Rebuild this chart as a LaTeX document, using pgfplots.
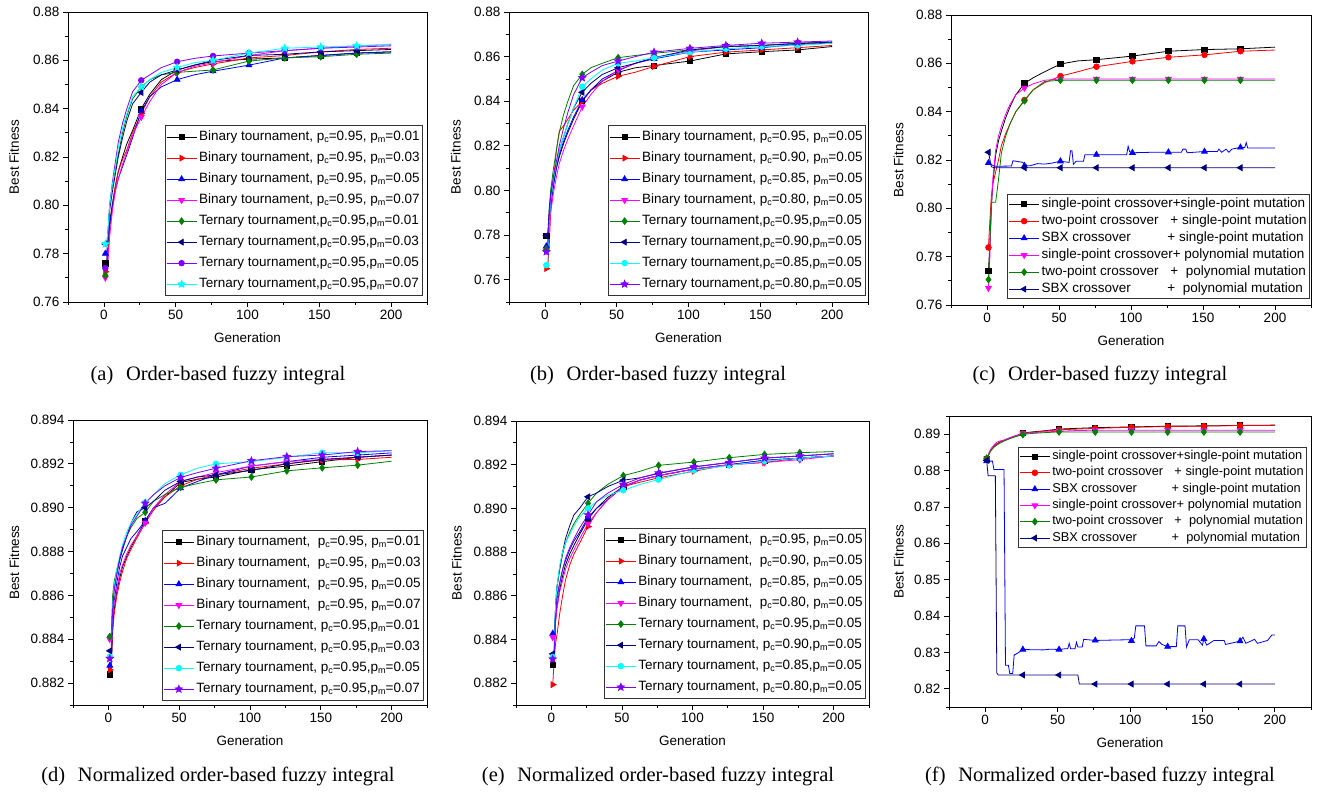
\documentclass[border=0pt]{standalone}
\usepackage{fontspec}
\setmainfont{Liberation Sans}
\newfontfamily\capfont{Liberation Serif}
\usepackage{pgfplots}
\usepackage{pgfplotstable}
\pgfplotsset{compat=1.18}

\definecolor{ored}{RGB}{255,0,0}
\definecolor{oblue}{RGB}{0,0,255}
\definecolor{omag}{RGB}{255,0,255}
\definecolor{ogreen}{RGB}{0,128,0}
\definecolor{onavy}{RGB}{0,0,128}
\definecolor{oviolet}{RGB}{128,0,255}
\definecolor{ocyan}{RGB}{0,255,255}

\pgfdeclareplotmark{fstar}{%
 \pgfpathmoveto{\pgfpointpolar{90}{1.25\pgfplotmarksize}}%
 \pgfpathlineto{\pgfpointpolar{126}{0.55\pgfplotmarksize}}%
 \pgfpathlineto{\pgfpointpolar{162}{1.25\pgfplotmarksize}}%
 \pgfpathlineto{\pgfpointpolar{198}{0.55\pgfplotmarksize}}%
 \pgfpathlineto{\pgfpointpolar{234}{1.25\pgfplotmarksize}}%
 \pgfpathlineto{\pgfpointpolar{270}{0.55\pgfplotmarksize}}%
 \pgfpathlineto{\pgfpointpolar{306}{1.25\pgfplotmarksize}}%
 \pgfpathlineto{\pgfpointpolar{342}{0.55\pgfplotmarksize}}%
 \pgfpathlineto{\pgfpointpolar{18}{1.25\pgfplotmarksize}}%
 \pgfpathlineto{\pgfpointpolar{54}{0.55\pgfplotmarksize}}%
 \pgfpathclose\pgfusepathqfillstroke}

\newcommand\tfont{\fontsize{13.5}{16}\selectfont}
\newcommand\sub[1]{\raisebox{-0.3ex}{\fontsize{9}{10}\selectfont #1}}
\newcommand\BT[2]{Binary tournament, p\sub{c}=#1, p\sub{m}=#2}
\newcommand\TT[2]{Ternary tournament,p\sub{c}=#1,p\sub{m}=#2}
\newcommand\BTn[2]{Binary tournament,\ \ p\sub{c}=#1, p\sub{m}=#2}
\newcommand\TTn[2]{Ternary tournament, p\sub{c}=#1,p\sub{m}=#2}

\pgfplotsset{
 myax/.style={
  scale only axis, anchor=south west,
  xmin=-25, xmax=225,
  xtick={0,50,100,150,200},
  minor xtick={-25,25,75,125,175,225},
  tick align=outside, tick pos=left,
  major tick length=5pt, minor tick length=3pt,
  tick style={black, line width=0.8pt},
  axis line style={line width=0.8pt},
  ticklabel style={font=\tfont},
  /pgf/number format/assume math mode=true,
  scaled y ticks=false, scaled x ticks=false,
  xlabel={Generation}, ylabel={Best Fitness},
  every axis x label/.style={at={(axis description cs:0.5,0)}, yshift=-36pt, anchor=center, font=\tfont},
  legend cell align=left,
  legend image code/.code={\draw[#1] (0pt,0pt) -- (30pt,0pt); \draw[#1] plot coordinates {(15pt,0pt)};},
  legend style={font=\tfont, draw=black!80, line width=0.7pt, inner xsep=1pt, inner ysep=1pt,
    nodes={text height=9.5pt, text depth=3pt, inner ysep=4.25pt, inner xsep=2pt}, row sep=0pt},
  every axis plot/.append style={line width=0.8pt},
 },
 ylp/.style={every axis y label/.style={at={(axis description cs:-#1,0.5)}, rotate=90, anchor=center, font=\tfont}},
 yprec/.style={yticklabel style={/pgf/number format/.cd, fixed, fixed zerofill, precision=#1}},
 mk/.style={mark indices={1,11,14,16,17,18,19,20}},
 pk/.style={black, mark=square*, mark size=2.6pt, mark options={solid}},
 pr/.style={ored, mark=triangle*, mark size=3.3pt, mark options={solid, rotate=-90}},
 prc/.style={ored, mark=*, mark size=2.8pt, mark options={solid}},
 pb/.style={oblue, mark=triangle*, mark size=3.3pt, mark options={solid}},
 pm/.style={omag, mark=triangle*, mark size=3.3pt, mark options={solid, rotate=180}},
 pg/.style={ogreen, mark=diamond*, mark size=3.3pt, mark options={solid}},
 pn/.style={onavy, mark=triangle*, mark size=3.3pt, mark options={solid, rotate=90}},
 pvc/.style={oviolet, mark=*, mark size=2.8pt, mark options={solid}},
 pvs/.style={oviolet, mark=fstar, mark size=3pt, mark options={solid}},
 pcc/.style={ocyan, mark=*, mark size=2.8pt, mark options={solid}},
 pcs/.style={ocyan, mark=fstar, mark size=3pt, mark options={solid}},
}

\pgfplotstableread{
x k r b m g n v c
1 0.776 0.7725 0.780 0.770 0.771 0.784 0.774 0.784
2 0.777 0.773 0.781 0.771 0.772 0.784 0.775 0.784
3 0.785 0.780 0.786 0.778 0.790 0.790 0.790 0.791
4 0.793 0.790 0.792 0.787 0.800 0.798 0.800 0.800
6 0.801 0.800 0.800 0.798 0.808 0.806 0.810 0.809
8 0.808 0.808 0.806 0.806 0.815 0.813 0.818 0.816
10 0.814 0.814 0.811 0.811 0.821 0.820 0.826 0.824
13 0.820 0.819 0.816 0.817 0.830 0.828 0.834 0.832
16 0.8255 0.823 0.821 0.822 0.837 0.835 0.840 0.838
20 0.831 0.830 0.828 0.829 0.844 0.842 0.847 0.845
26 0.840 0.838 0.839 0.8365 0.849 0.8467 0.8517 0.849
32 0.846 0.845 0.845 0.843 0.852 0.851 0.854 0.852
40 0.852 0.851 0.849 0.850 0.854 0.854 0.857 0.855
51 0.856 0.855 0.852 0.855 0.855 0.856 0.8594 0.857
63 0.858 0.857 0.854 0.8575 0.8555 0.858 0.8608 0.859
76 0.8595 0.8585 0.8555 0.859 0.856 0.860 0.8618 0.860
101 0.8605 0.861 0.858 0.862 0.8597 0.862 0.863 0.863
126 0.861 0.862 0.861 0.864 0.861 0.8625 0.864 0.865
151 0.862 0.8635 0.862 0.865 0.8615 0.8635 0.865 0.8655
176 0.863 0.8645 0.863 0.866 0.8625 0.864 0.8655 0.866
200 0.8635 0.865 0.8635 0.8665 0.863 0.8645 0.866 0.8667
}\tabA

\pgfplotstableread{
x k r b m g n c v
1 0.7797 0.765 0.775 0.773 0.7738 0.7797 0.7665 0.7725
2 0.780 0.766 0.776 0.774 0.775 0.780 0.768 0.774
3 0.788 0.775 0.785 0.782 0.790 0.792 0.785 0.788
4 0.795 0.790 0.793 0.790 0.800 0.798 0.795 0.797
6 0.803 0.805 0.802 0.799 0.810 0.806 0.805 0.806
8 0.810 0.818 0.810 0.806 0.818 0.812 0.812 0.813
10 0.815 0.8265 0.816 0.812 0.826 0.818 0.818 0.820
13 0.821 0.829 0.822 0.818 0.834 0.824 0.824 0.828
16 0.826 0.832 0.827 0.823 0.840 0.830 0.830 0.835
20 0.832 0.836 0.833 0.829 0.847 0.837 0.837 0.843
26 0.840 0.840 0.8405 0.8375 0.852 0.844 0.8465 0.8505
32 0.845 0.845 0.845 0.843 0.855 0.848 0.850 0.853
40 0.849 0.848 0.850 0.849 0.857 0.852 0.854 0.856
51 0.853 0.8512 0.8537 0.854 0.8595 0.855 0.857 0.858
63 0.855 0.853 0.857 0.857 0.8605 0.857 0.858 0.860
76 0.856 0.8556 0.859 0.8595 0.8615 0.8595 0.8595 0.862
101 0.858 0.860 0.862 0.8625 0.863 0.863 0.862 0.8637
126 0.8612 0.862 0.863 0.8645 0.8645 0.8645 0.8635 0.865
151 0.8622 0.863 0.864 0.865 0.865 0.865 0.8645 0.866
176 0.863 0.864 0.8655 0.866 0.866 0.8658 0.865 0.8665
200 0.8645 0.865 0.866 0.8665 0.8665 0.8665 0.866 0.867
}\tabB

\pgfplotstableread{
x k r m g
1 0.7742 0.7838 0.767 0.7705
2 0.785 0.795 0.780 0.785
3 0.800 0.805 0.800 0.8025
4 0.810 0.810 0.812 0.8025
6 0.822 0.815 0.824 0.8025
8 0.828 0.820 0.830 0.812
10 0.832 0.826 0.834 0.823
13 0.8375 0.831 0.839 0.830
16 0.842 0.835 0.843 0.835
20 0.847 0.840 0.847 0.840
26 0.8517 0.8448 0.8498 0.8445
32 0.854 0.849 0.8515 0.849
40 0.8565 0.852 0.853 0.8525
51 0.8597 0.8547 0.8535 0.853
63 0.861 0.8565 0.8535 0.853
76 0.8615 0.8586 0.8535 0.853
101 0.863 0.8608 0.8535 0.853
126 0.865 0.8625 0.8535 0.853
151 0.8657 0.8635 0.8535 0.853
176 0.866 0.865 0.8535 0.853
200 0.8667 0.8655 0.8535 0.853
}\tabC

\pgfplotstableread{
x k r b m g n c v
1 0.8824 0.8826 0.8828 0.8840 0.88412 0.88347 0.8832 0.88312
2 0.8826 0.8827 0.8830 0.8841 0.8842 0.8836 0.8834 0.8833
3 0.8845 0.8843 0.8848 0.8850 0.8860 0.8855 0.8856 0.8854
4 0.8853 0.8851 0.8857 0.8856 0.8866 0.8862 0.8864 0.8862
6 0.8862 0.8860 0.8866 0.8863 0.8872 0.8870 0.8872 0.8870
8 0.8868 0.8866 0.8873 0.8870 0.8877 0.8876 0.8878 0.8877
10 0.8873 0.8871 0.8878 0.8874 0.8881 0.8881 0.8883 0.8882
13 0.8878 0.8877 0.8882 0.8879 0.8887 0.8887 0.8889 0.8887
16 0.8882 0.8881 0.8886 0.8883 0.8891 0.8893 0.8893 0.8892
20 0.8887 0.8886 0.8889 0.8887 0.8895 0.8898 0.8897 0.8896
26 0.8894 0.8893 0.8894 0.8893 0.88979 0.8900 0.89024 0.8902
32 0.8900 0.8899 0.8900 0.8900 0.8903 0.8903 0.8906 0.8906
40 0.8905 0.8905 0.8902 0.8906 0.8906 0.8908 0.8911 0.8910
51 0.89115 0.8910 0.89089 0.8912 0.89093 0.8912 0.8915 0.89138
63 0.8913 0.8913 0.8912 0.8914 0.8911 0.8914 0.8918 0.8916
76 0.8914 0.8915 0.8915 0.8916 0.89127 0.8915 0.8920 0.8918
101 0.89173 0.8918 0.8919 0.8919 0.8914 0.8917 0.8921 0.89214
126 0.8919 0.8920 0.8921 0.8921 0.89168 0.8920 0.8923 0.89233
151 0.8921 0.89218 0.8923 0.8922 0.89182 0.8922 0.89251 0.8924
176 0.8923 0.8922 0.8924 0.8923 0.89194 0.8923 0.8925 0.89256
200 0.8924 0.8923 0.8925 0.8924 0.89212 0.8924 0.8926 0.8926
}\tabD

\pgfplotstableread{
x k r b m g n c v
1 0.88284 0.88193 0.88427 0.8841 0.88314 0.88334 0.8832 0.8831
2 0.8830 0.8830 0.8843 0.8841 0.8833 0.8835 0.8834 0.8833
3 0.8848 0.8838 0.8852 0.8848 0.8855 0.8855 0.8855 0.8850
4 0.8855 0.8842 0.8860 0.8854 0.8864 0.8864 0.8864 0.8858
6 0.8863 0.8852 0.8866 0.8862 0.8872 0.8873 0.8874 0.8866
8 0.8869 0.8860 0.8872 0.8867 0.8879 0.8880 0.8880 0.8872
10 0.8874 0.8867 0.8876 0.8872 0.8884 0.8886 0.8884 0.8877
13 0.8879 0.8874 0.8881 0.8877 0.8889 0.8892 0.8888 0.8882
16 0.8883 0.8879 0.8885 0.8881 0.8893 0.8897 0.8892 0.8886
20 0.8888 0.8884 0.8889 0.8886 0.8897 0.8900 0.8896 0.8891
26 0.8895 0.88917 0.88958 0.8893 0.89023 0.89053 0.8900 0.8897
32 0.8900 0.8898 0.8900 0.8898 0.8907 0.8907 0.8903 0.8903
40 0.8905 0.8904 0.8904 0.8904 0.8911 0.8910 0.8906 0.8907
51 0.8910 0.8910 0.8910 0.8910 0.8915 0.89129 0.89083 0.8911
63 0.8913 0.8912 0.8913 0.8913 0.8917 0.8914 0.8911 0.8914
76 0.8915 0.8914 0.8915 0.8915 0.89197 0.8916 0.89132 0.89162
101 0.8918 0.8917 0.8918 0.8918 0.89212 0.8919 0.89174 0.8919
126 0.8920 0.8920 0.8920 0.8920 0.89232 0.8921 0.89197 0.8921
151 0.8922 0.8921 0.8922 0.8921 0.89247 0.8923 0.89217 0.8923
176 0.8923 0.8923 0.8923 0.89223 0.89255 0.8924 0.8923 0.8924
200 0.8924 0.8924 0.8924 0.8924 0.8926 0.8925 0.8924 0.8925
}\tabE

\pgfplotstableread{
x k r m g
1 0.8832 0.8832 0.8833 0.8834
2 0.8840 0.8840 0.8842 0.8840
3 0.8850 0.8850 0.8853 0.8848
4 0.8857 0.8857 0.8860 0.8855
6 0.8866 0.8866 0.8870 0.8864
8 0.8873 0.8873 0.8878 0.8870
10 0.8878 0.8878 0.8881 0.8875
13 0.8883 0.8883 0.8884 0.8881
16 0.8888 0.8888 0.8889 0.8886
20 0.8893 0.8893 0.8895 0.8892
26 0.8903 0.8902 0.8902 0.8899
32 0.8906 0.8905 0.8904 0.8902
40 0.8909 0.8908 0.8906 0.8904
51 0.8914 0.8912 0.8908 0.89064
63 0.8916 0.8914 0.8910 0.8906
76 0.8918 0.8916 0.8911 0.8906
101 0.8920 0.8919 0.8911 0.8906
126 0.8922 0.8921 0.8911 0.8906
151 0.8923 0.8922 0.8911 0.8906
176 0.8924 0.8924 0.8911 0.8906
200 0.8925 0.8924 0.8911 0.8906
}\tabF

\begin{document}
\begin{tikzpicture}
\useasboundingbox (0,0) rectangle (1320pt,792pt);

% (a)
\begin{axis}[myax, ylp=0.150, yprec=2, at={(68pt,490pt)}, width=359pt, height=290pt,
  ymin=0.76, ymax=0.88, ytick={0.76,0.78,...,0.881}, minor ytick={0.77,0.79,...,0.875},
  legend style={at={(axis description cs:1,0)}, anchor=south east, xshift=-4pt, yshift=6pt}]
\addplot[pk,mk] table[x=x,y=k]{\tabA}; \addlegendentry{\BT{0.95}{0.01}}
\addplot[pr,mk] table[x=x,y=r]{\tabA}; \addlegendentry{\BT{0.95}{0.03}}
\addplot[pb,mk] table[x=x,y=b]{\tabA}; \addlegendentry{\BT{0.95}{0.05}}
\addplot[pm,mk] table[x=x,y=m]{\tabA}; \addlegendentry{\BT{0.95}{0.07}}
\addplot[pg,mk] table[x=x,y=g]{\tabA}; \addlegendentry{\TT{0.95}{0.01}}
\addplot[pn,mk] table[x=x,y=n]{\tabA}; \addlegendentry{\TT{0.95}{0.03}}
\addplot[pvc,mk] table[x=x,y=v]{\tabA}; \addlegendentry{\TT{0.95}{0.05}}
\addplot[pcs,mk] table[x=x,y=c]{\tabA}; \addlegendentry{\TT{0.95}{0.07}}
\end{axis}

% (b)
\begin{axis}[myax, ylp=0.148, yprec=2, at={(509pt,490pt)}, width=359pt, height=290pt,
  ymin=0.75, ymax=0.88, ytick={0.76,0.78,...,0.881}, minor ytick={0.75,0.77,...,0.875},
  legend style={at={(axis description cs:1,0)}, anchor=south east, xshift=-2pt, yshift=6pt}]
\addplot[pk,mk] table[x=x,y=k]{\tabB}; \addlegendentry{\BT{0.95}{0.05}}
\addplot[pr,mk] table[x=x,y=r]{\tabB}; \addlegendentry{\BT{0.90}{0.05}}
\addplot[pb,mk] table[x=x,y=b]{\tabB}; \addlegendentry{\BT{0.85}{0.05}}
\addplot[pm,mk] table[x=x,y=m]{\tabB}; \addlegendentry{\BT{0.80}{0.05}}
\addplot[pg,mk] table[x=x,y=g]{\tabB}; \addlegendentry{\TT{0.95}{0.05}}
\addplot[pn,mk] table[x=x,y=n]{\tabB}; \addlegendentry{\TT{0.90}{0.05}}
\addplot[pcc,mk] table[x=x,y=c]{\tabB}; \addlegendentry{\TT{0.85}{0.05}}
\addplot[pvs,mk] table[x=x,y=v]{\tabB}; \addlegendentry{\TT{0.80}{0.05}}
\end{axis}

% (c)
\begin{axis}[myax, ylp=0.146, yprec=2, at={(951pt,487pt)}, width=360pt, height=290pt,
  ymin=0.76, ymax=0.88, ytick={0.76,0.78,...,0.881}, minor ytick={0.77,0.79,...,0.875},
  legend style={at={(axis description cs:1,0)}, anchor=south east, xshift=-1pt, yshift=6pt,
   nodes={text height=9.5pt, text depth=3pt, inner ysep=2.25pt}}]
\addplot[pk,mk] table[x=x,y=k]{\tabC}; \addlegendentry{single-point crossover+single-point mutation}
\addplot[prc,mk] table[x=x,y=r]{\tabC}; \addlegendentry{\makebox[9.55em][l]{two-point crossover}+ single-point mutation}
\addplot[pb, mark indices={1,7,12,20,24,26,31,38}] coordinates {
(1,0.8188) (3,0.8180) (6,0.8174) (17,0.8175) (18,0.8197) (25,0.8190) (26,0.8176) (30,0.8176)
(35,0.8185) (40,0.8183) (45,0.8187) (51,0.8195) (57,0.8190) (58,0.8238) (59,0.8238) (60,0.8182)
(62,0.8195) (67,0.8195) (68,0.8222) (76,0.8222) (97,0.8222) (98,0.8257) (99,0.8235) (101,0.8230)
(115,0.8232) (126,0.8232) (135,0.8232) (136,0.8245) (138,0.8245) (139,0.8230) (151,0.8235) (160,0.8235)
(161,0.8245) (163,0.8232) (166,0.8245) (168,0.8232) (170,0.8245) (176,0.8252) (179,0.8252) (180,0.8272)
(181,0.8250) (200,0.8250)};
\addlegendentry{\makebox[9.33em][l]{SBX crossover}+ single-point mutation}
\addplot[pm,mk] table[x=x,y=m]{\tabC}; \addlegendentry{single-point crossover+ polynomial mutation}
\addplot[pg,mk] table[x=x,y=g]{\tabC}; \addlegendentry{\makebox[9.55em][l]{two-point crossover}+\ \ polynomial mutation}
\addplot[pn, mark indices={1,4,5,6,7,8,9,10}] coordinates {
(1,0.8232) (3,0.8172) (5,0.8168) (26,0.8168) (51,0.8168) (76,0.8168) (101,0.8168) (126,0.8168)
(151,0.8168) (176,0.8168) (200,0.8168)};
\addlegendentry{\makebox[9.33em][l]{SBX crossover}+\ \ polynomial mutation}
\end{axis}

% (d)
\begin{axis}[myax, ylp=0.166, yprec=3, at={(73pt,87pt)}, width=354pt, height=285pt,
  ymin=0.881, ymax=0.894, ytick={0.882,0.884,...,0.8945}, minor ytick={0.881,0.883,...,0.8935},
  legend style={at={(axis description cs:1,0)}, anchor=south east, xshift=-3pt, yshift=4pt}]
\addplot[pk,mk] table[x=x,y=k]{\tabD}; \addlegendentry{\BTn{0.95}{0.01}}
\addplot[pr,mk] table[x=x,y=r]{\tabD}; \addlegendentry{\BTn{0.95}{0.03}}
\addplot[pb,mk] table[x=x,y=b]{\tabD}; \addlegendentry{\BTn{0.95}{0.05}}
\addplot[pm,mk] table[x=x,y=m]{\tabD}; \addlegendentry{\BTn{0.95}{0.07}}
\addplot[pg,mk] table[x=x,y=g]{\tabD}; \addlegendentry{\TTn{0.95}{0.01}}
\addplot[pn,mk] table[x=x,y=n]{\tabD}; \addlegendentry{\TTn{0.95}{0.03}}
\addplot[pcc,mk] table[x=x,y=c]{\tabD}; \addlegendentry{\TTn{0.95}{0.05}}
\addplot[pvs,mk] table[x=x,y=v]{\tabD}; \addlegendentry{\TTn{0.95}{0.07}}
\end{axis}

% (e)
\begin{axis}[myax, ylp=0.168, yprec=3, at={(516pt,87pt)}, width=353pt, height=284pt,
  ymin=0.881, ymax=0.894, ytick={0.882,0.884,...,0.8945}, minor ytick={0.881,0.883,...,0.8935},
  legend style={at={(axis description cs:1,0)}, anchor=south east, xshift=-3pt, yshift=6pt}]
\addplot[pk,mk] table[x=x,y=k]{\tabE}; \addlegendentry{\BTn{0.95}{0.05}}
\addplot[pr,mk] table[x=x,y=r]{\tabE}; \addlegendentry{\BTn{0.90}{0.05}}
\addplot[pb,mk] table[x=x,y=b]{\tabE}; \addlegendentry{\BTn{0.85}{0.05}}
\addplot[pm,mk] table[x=x,y=m]{\tabE}; \addlegendentry{\BTn{0.80}{0.05}}
\addplot[pg,mk] table[x=x,y=g]{\tabE}; \addlegendentry{\TTn{0.95}{0.05}}
\addplot[pn,mk] table[x=x,y=n]{\tabE}; \addlegendentry{\TTn{0.90}{0.05}}
\addplot[pcc,mk] table[x=x,y=c]{\tabE}; \addlegendentry{\TTn{0.85}{0.05}}
\addplot[pvs,mk] table[x=x,y=v]{\tabE}; \addlegendentry{\TTn{0.80}{0.05}}
\end{axis}

% (f)
\begin{axis}[myax, ylp=0.139, yprec=2, at={(949pt,85pt)}, width=362pt, height=291pt,
  ymin=0.815, ymax=0.895, ytick={0.82,0.83,...,0.8905}, minor ytick={0.815,0.825,...,0.8955},
  legend style={at={(axis description cs:1,1)}, anchor=north east, xshift=-4pt, yshift=-31pt,
   font=\fontsize{12.8}{15}\selectfont,
   nodes={text height=9.2pt, text depth=2.9pt, inner ysep=2.1pt}}]
\addplot[pk,mk] table[x=x,y=k]{\tabF}; \addlegendentry{single-point crossover+single-point mutation}
\addplot[prc,mk] table[x=x,y=r]{\tabF}; \addlegendentry{\makebox[9.55em][l]{two-point crossover}+ single-point mutation}
\addplot[pb, mark indices={1,11,14,24,26,34,42,47}] coordinates {
(1,0.8826) (5,0.8826) (6,0.8803) (13,0.8803) (14,0.8265) (16,0.8265) (17,0.8242) (19,0.8242)
(20,0.8293) (22,0.8297) (26,0.8308) (40,0.8307) (45,0.8309) (51,0.8308) (55,0.8310) (57,0.8310)
(58,0.8325) (59,0.8310) (62,0.8310) (63,0.8328) (64,0.8315) (67,0.8315) (68,0.8336) (76,0.8333)
(100,0.8335) (101,0.8332) (103,0.8340) (104,0.8373) (110,0.8373) (111,0.8318) (118,0.8318) (120,0.8330)
(122,0.8322) (126,0.8316) (132,0.8316) (133,0.8373) (138,0.8373) (139,0.8315) (141,0.8335) (147,0.8335)
(150,0.8320) (151,0.8337) (153,0.8320) (158,0.8333) (165,0.8333) (166,0.8322) (176,0.8331) (178,0.8342)
(180,0.8325) (186,0.8336) (188,0.8325) (195,0.8333) (198,0.8348) (200,0.8348)};
\addlegendentry{\makebox[9.33em][l]{SBX crossover}+ single-point mutation}
\addplot[pm,mk] table[x=x,y=m]{\tabF}; \addlegendentry{single-point crossover+ polynomial mutation}
\addplot[pg,mk] table[x=x,y=g]{\tabF}; \addlegendentry{\makebox[9.55em][l]{two-point crossover}+\ \ polynomial mutation}
\addplot[pn, mark indices={1,6,7,10,11,12,13,14}] coordinates {
(1,0.8828) (2,0.8786) (7,0.8786) (8,0.8244) (9,0.8238) (26,0.8238) (51,0.8238) (64,0.8238)
(65,0.8213) (76,0.8213) (101,0.8213) (126,0.8213) (151,0.8213) (176,0.8213) (200,0.8213)};
\addlegendentry{\makebox[9.33em][l]{SBX crossover}+\ \ polynomial mutation}
\end{axis}

\begin{scope}[every node/.style={font=\capfont\fontsize{20.5}{24}\selectfont, anchor=base}]
\node at (218pt,411pt) {(a)\hspace{0.62em}Order-based fuzzy integral};
\node at (658pt,411pt) {(b)\hspace{0.62em}Order-based fuzzy integral};
\node at (1100pt,411pt) {(c)\hspace{0.62em}Order-based fuzzy integral};
\node at (218pt,10pt) {(d)\hspace{0.62em}Normalized order-based fuzzy integral};
\node at (658pt,10pt) {(e)\hspace{0.62em}Normalized order-based fuzzy integral};
\node at (1100pt,10pt) {(f)\hspace{0.62em}Normalized order-based fuzzy integral};
\end{scope}
\end{tikzpicture}
\end{document}
